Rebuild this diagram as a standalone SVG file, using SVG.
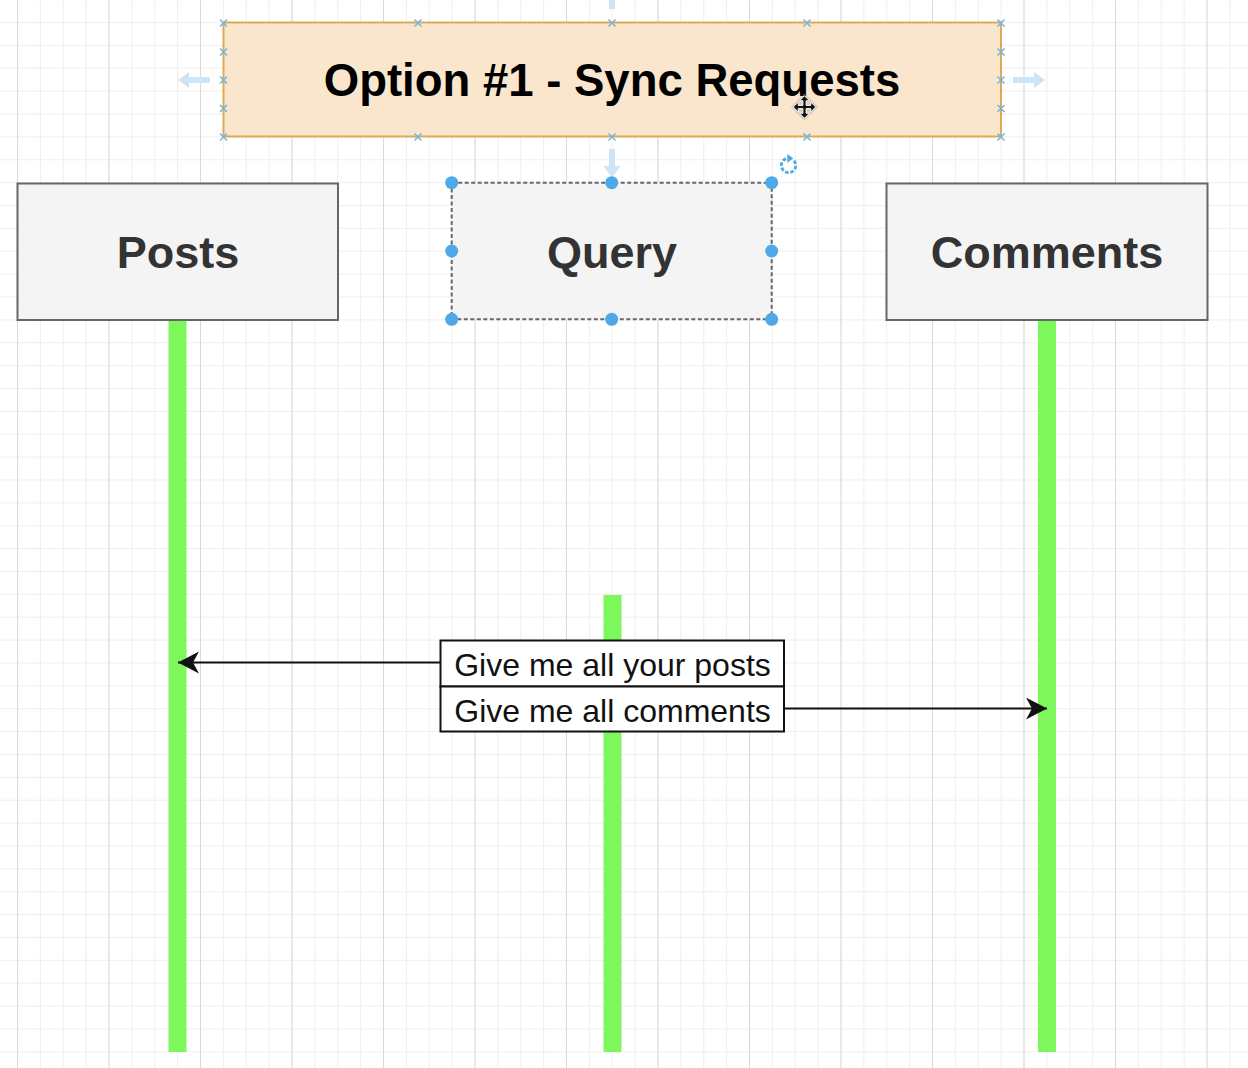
<svg xmlns="http://www.w3.org/2000/svg" width="1248" height="1068" viewBox="0 0 1248 1068">
  <style>
    .node { fill: #f4f4f4; stroke: #666666; stroke-width: 2; }
    .nodeText { font-family: "Liberation Sans", Arial, sans-serif; font-weight: bold; font-size: 45px; fill: #333333; text-anchor: middle; }
    .title { fill: #fae6cd; stroke: #dcab55; stroke-width: 2; }
    .titleText { font-family: "Liberation Sans", Arial, sans-serif; font-weight: bold; font-size: 45.5px; fill: #000000; text-anchor: middle; }
    .life { fill: #7df75b; }
    .label { fill: #ffffff; stroke: #111111; stroke-width: 2; }
    .labelText { font-family: "Liberation Sans", Arial, sans-serif; font-size: 32px; fill: #111111; text-anchor: middle; }
    .edge { fill: none; stroke: #111111; stroke-width: 2; }
    .handle { fill: #4fa9e8; }
    .xmark { stroke: #74b4dc; stroke-width: 1.5; fill: none; }
    .hint { fill: #cde5f7; }
  </style>
  <defs>
    <pattern id="minor" patternUnits="userSpaceOnUse" x="17" y="-0.9" width="22.875" height="22.875">
      <path d="M0.5 0 V22.875 M0 0.5 H22.875" stroke="#eeeeee" stroke-width="1" fill="none"/>
    </pattern>
    <pattern id="major" patternUnits="userSpaceOnUse" x="17" y="0" width="91.5" height="50">
      <path d="M0.5 0 V50" stroke="#d9d9d9" stroke-width="1" fill="none"/>
    </pattern>
    <marker id="arrow" markerUnits="userSpaceOnUse" markerWidth="24" markerHeight="24" refX="21" refY="11" orient="auto">
      <path d="M0 0 L21 11 L0 22 L6 11 Z" fill="#111111"/>
    </marker>
  </defs>

  <!-- background grid -->
  <rect x="0" y="0" width="1248" height="1068" fill="#ffffff"/>
  <rect x="0" y="0" width="1248" height="1068" fill="url(#minor)"/>
  <rect x="0" y="0" width="1248" height="1068" fill="url(#major)"/>

  <!-- lifelines -->
  <g id="lifelines">
    <rect id="posts-lifeline" class="life" x="168.5" y="320" width="18" height="732"/>
    <rect id="query-lifeline" class="life" x="603.5" y="595" width="18" height="457"/>
    <rect id="comments-lifeline" class="life" x="1038" y="320" width="18" height="732"/>
  </g>

  <!-- title -->
  <g id="title">
    <rect class="title" x="223.5" y="22.5" width="777.5" height="114"/>
    <text class="titleText" x="612" y="96">Option #1 - Sync Requests</text>
  </g>

  <!-- nodes -->
  <g id="posts">
    <rect class="node" x="17.5" y="183.5" width="320.5" height="136.5"/>
    <text class="nodeText" x="178" y="268">Posts</text>
  </g>
  <g id="query">
    <rect class="node" x="451.7" y="182.7" width="320" height="136.6" stroke-dasharray="4 2.5" stroke="#555555" stroke-width="1.5"/>
    <text class="nodeText" x="612" y="268">Query</text>
  </g>
  <g id="comments">
    <rect class="node" x="886.5" y="183.5" width="321" height="136.5"/>
    <text class="nodeText" x="1047" y="268">Comments</text>
  </g>

  <!-- connectors -->
  <g id="connectors">
    <path class="edge" d="M440 662.5 H178" marker-end="url(#arrow)"/>
    <path class="edge" d="M784 708.5 H1047" marker-end="url(#arrow)"/>
  </g>

  <!-- message labels -->
  <g id="msg-posts">
    <rect class="label" x="440.5" y="640.5" width="343.5" height="46"/>
    <text class="labelText" x="612.5" y="676">Give me all your posts</text>
  </g>
  <g id="msg-comments">
    <rect class="label" x="440.5" y="686.5" width="343.5" height="45"/>
    <text class="labelText" x="612.5" y="721.5">Give me all comments</text>
  </g>

  <!-- editor selection decorations -->
  <g id="title-selection">
    <path class="xmark" d="M220 19.5 l7 7 m0 -7 l-7 7 M414.5 19.5 l7 7 m0 -7 l-7 7 M608.5 19.5 l7 7 m0 -7 l-7 7 M803.5 19.5 l7 7 m0 -7 l-7 7 M997.5 19.5 l7 7 m0 -7 l-7 7
      M220 133.5 l7 7 m0 -7 l-7 7 M414.5 133.5 l7 7 m0 -7 l-7 7 M608.5 133.5 l7 7 m0 -7 l-7 7 M803.5 133.5 l7 7 m0 -7 l-7 7 M997.5 133.5 l7 7 m0 -7 l-7 7
      M220 48.5 l7 7 m0 -7 l-7 7 M220 76.5 l7 7 m0 -7 l-7 7 M220 105 l7 7 m0 -7 l-7 7
      M997.5 48.5 l7 7 m0 -7 l-7 7 M997.5 76.5 l7 7 m0 -7 l-7 7 M997.5 105 l7 7 m0 -7 l-7 7"/>
    <path class="hint" d="M178 80 L189 72 L189 77 L210 77 L210 83 L189 83 L189 88 Z"/>
    <path class="hint" d="M1045 80 L1034 72 L1034 77 L1013 77 L1013 83 L1034 83 L1034 88 Z"/>
    <rect class="hint" x="609" y="0" width="6" height="9"/>
    <path class="hint" d="M612 178 L603.5 166 L609 166 L609 149 L615 149 L615 166 L620.5 166 Z"/>
    <g transform="translate(804.5 107) scale(1.25)">
      <path d="M0 -11 L11 0 L0 11 L-11 0 Z" fill="#9a9a9a" opacity="0.35"/>
      <path d="M0 -9 L4 -5 L1.3 -5 L1.3 -1.3 L5 -1.3 L5 -4 L9 0 L5 4 L5 1.3 L1.3 1.3 L1.3 5 L4 5 L0 9 L-4 5 L-1.3 5 L-1.3 1.3 L-5 1.3 L-5 4 L-9 0 L-5 -4 L-5 -1.3 L-1.3 -1.3 L-1.3 -5 L-4 -5 Z" fill="#111111" stroke="#ffffff" stroke-width="0.8"/>
    </g>
  </g>
  <g id="query-selection">
    <circle class="handle" cx="451.7" cy="182.7" r="6.5"/>
    <circle class="handle" cx="611.7" cy="182.7" r="6.5"/>
    <circle class="handle" cx="771.7" cy="182.7" r="6.5"/>
    <circle class="handle" cx="451.7" cy="251" r="6.5"/>
    <circle class="handle" cx="771.7" cy="251" r="6.5"/>
    <circle class="handle" cx="451.7" cy="319.3" r="6.5"/>
    <circle class="handle" cx="611.7" cy="319.3" r="6.5"/>
    <circle class="handle" cx="771.7" cy="319.3" r="6.5"/>
    <g transform="translate(788.5 165.5) scale(1.2)">
      <path d="M4.6 -4 A6 6 0 1 1 -2 -5.7" fill="none" stroke="#4fa9e8" stroke-width="2.4" stroke-dasharray="3 1.5"/>
      <path d="M-1 -9.5 L4 -6 L-1 -2 Z" fill="#4fa9e8"/>
    </g>
  </g>
</svg>
